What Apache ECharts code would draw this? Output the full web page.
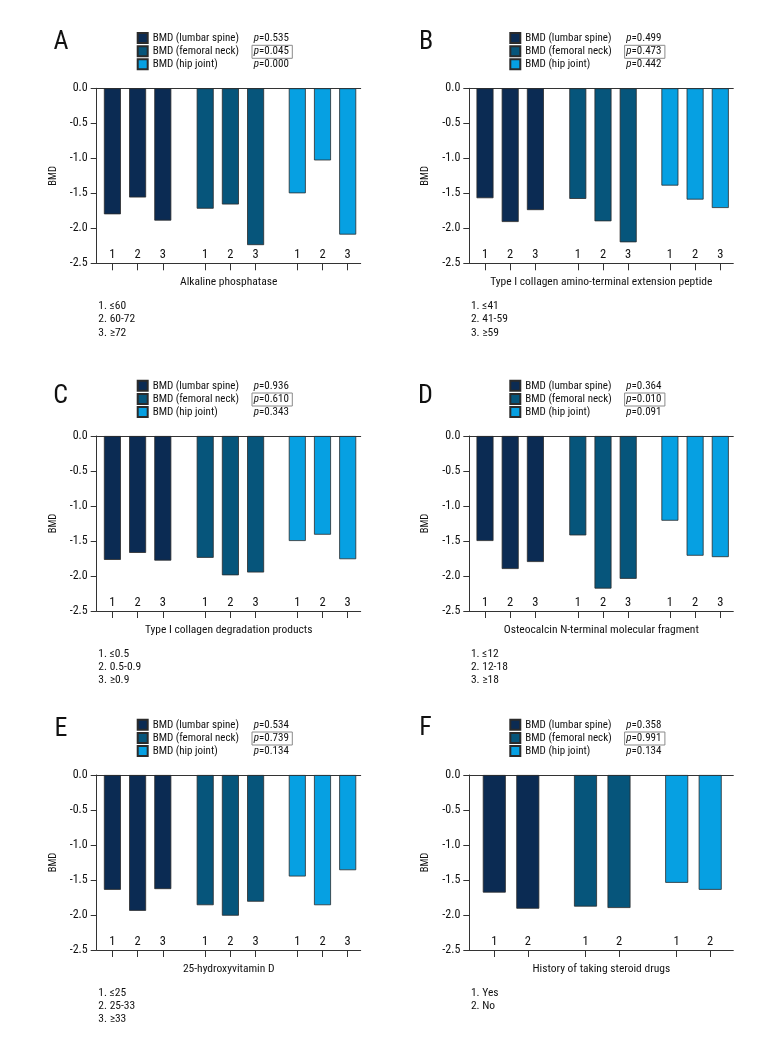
<!DOCTYPE html>
<html><head><meta charset="utf-8">
<script src="https://cdn.jsdelivr.net/npm/echarts@6/dist/echarts.min.js"></script>
<style>html,body{margin:0;padding:0;background:#fff}#c{width:780px;height:1056px}</style>
</head><body><div id="c"></div>
<script>
// ---------- data ----------
const panelLetters = ['A', 'B', 'C', 'D', 'E', 'F'];
const seriesNames = ['BMD (lumbar spine)', 'BMD (femoral neck)', 'BMD (hip joint)'];
const xTitles = [
  'Alkaline phosphatase',
  'Type I collagen amino-terminal extension peptide',
  'Type I collagen degradation products',
  'Osteocalcin N-terminal molecular fragment',
  '25-hydroxyvitamin D',
  'History of taking steroid drugs'
];
const levels3 = ['1', '2', '3'];
const levels2 = ['1', '2'];

const pA = ['0.535', '0.045', '0.000'];
const pB = ['0.499', '0.473', '0.442'];
const pC = ['0.936', '0.610', '0.343'];
const pD = ['0.364', '0.010', '0.091'];
const pE = ['0.534', '0.739', '0.134'];
const pF = ['0.358', '0.991', '0.134'];

// rows: lumbar spine, femoral neck, hip joint ; columns: level 1,2,(3)
const bmdA = [[-1.80, -1.56, -1.89], [-1.72, -1.66, -2.24], [-1.50, -1.03, -2.09]];
const bmdB = [[-1.57, -1.91, -1.74], [-1.58, -1.90, -2.20], [-1.39, -1.59, -1.71]];
const bmdC = [[-1.77, -1.67, -1.78], [-1.74, -1.99, -1.95], [-1.50, -1.41, -1.76]];
const bmdD = [[-1.50, -1.90, -1.80], [-1.42, -2.18, -2.04], [-1.21, -1.71, -1.73]];
const bmdE = [[-1.64, -1.94, -1.63], [-1.86, -2.01, -1.81], [-1.45, -1.86, -1.36]];
const bmdF = [[-1.68, -1.91], [-1.88, -1.90], [-1.54, -1.64]];

const notesA = ['1. \u226460', '2. 60-72', '3. \u226572'];
const notesB = ['1. \u226441', '2. 41-59', '3. \u226559'];
const notesC = ['1. \u22640.5', '2. 0.5-0.9', '3. \u22650.9'];
const notesD = ['1. \u226412', '2. 12-18', '3. \u226518'];
const notesE = ['1. \u226425', '2. 25-33', '3. \u226533'];
const notesF = ['1. Yes', '2. No'];

const yMin = -2.5, yMax = 0, yStep = 0.5;

// ---------- style / layout ----------
const FONT = '"Roboto Condensed","Open Sans Condensed","DejaVu Sans Condensed",sans-serif';
const TXT = '#111';
const AX = '#333';
const seriesColors = ['#0b2b53', '#06557b', '#06a0e2'];
const W = 264, H = 175;
const panelPos = [
  { ax: 96.7, top: 88.3, lx: 61, ly: 42.5 },
  { ax: 469.3, top: 88.3, lx: 426, ly: 42.3 },
  { ax: 96.7, top: 436, lx: 60.5, ly: 396 },
  { ax: 469.3, top: 436, lx: 425.5, ly: 396 },
  { ax: 96.7, top: 775, lx: 61, ly: 729 },
  { ax: 469.3, top: 775, lx: 425.5, ly: 728.6 }
];
const layout3 = { offs: [3.1, 95.9, 188.0], gw: 75.6, bw: 17 };
const layout2 = { offs: [8.25, 99.45, 190.65], gw: 67, bw: 23 };

const panels = [
  { bmd: bmdA, p: pA, notes: notesA, levels: levels3 },
  { bmd: bmdB, p: pB, notes: notesB, levels: levels3 },
  { bmd: bmdC, p: pC, notes: notesC, levels: levels3 },
  { bmd: bmdD, p: pD, notes: notesD, levels: levels3 },
  { bmd: bmdE, p: pE, notes: notesE, levels: levels3 },
  { bmd: bmdF, p: pF, notes: notesF, levels: levels2 }
];

const grids = [], xAxes = [], yAxes = [], series = [], legends = [], elements = [];

panels.forEach((pn, i) => {
  const pos = panelPos[i];
  const bottom = pos.top + H;
  const lay = pn.levels.length === 3 ? layout3 : layout2;

  // main frame grid
  const gi = grids.length;
  grids.push({ left: pos.ax, top: pos.top, width: W, height: H });
  xAxes.push({
    gridIndex: gi, type: 'value', min: 0, max: 1, position: 'bottom',
    axisLine: { show: true, onZero: false, lineStyle: { color: AX, width: 1 } },
    axisTick: { show: false }, axisLabel: { show: false }, splitLine: { show: false },
    name: xTitles[i], nameLocation: 'middle', nameGap: 13,
    nameTextStyle: { fontFamily: FONT, fontSize: 11.5, color: TXT }
  });
  xAxes.push({
    gridIndex: gi, type: 'value', min: 0, max: 1, position: 'top',
    axisLine: { show: true, onZero: false, lineStyle: { color: AX, width: 1 } },
    axisTick: { show: false }, axisLabel: { show: false }, splitLine: { show: false }
  });
  yAxes.push({
    gridIndex: gi, type: 'value', min: yMin, max: yMax, interval: yStep,
    axisLine: { show: true, onZero: false, lineStyle: { color: AX, width: 1 } },
    axisTick: { show: true, length: 6, lineStyle: { color: AX } },
    axisLabel: { formatter: v => v.toFixed(1), margin: 9, fontFamily: FONT, fontSize: 12, color: TXT },
    splitLine: { show: false },
    name: 'BMD', nameLocation: 'middle', nameGap: 38, nameRotate: 90,
    nameTextStyle: { fontFamily: FONT, fontSize: 10.5, color: TXT }
  });

  // one sub-grid per BMD site
  seriesNames.forEach((sn, k) => {
    const g = grids.length;
    grids.push({ left: pos.ax + lay.offs[k], top: pos.top, width: lay.gw, height: H });
    const xi = xAxes.length, yi = yAxes.length;
    xAxes.push({
      gridIndex: g, type: 'category', data: pn.levels, position: 'bottom',
      axisLine: { show: false, onZero: false },
      axisTick: { show: true, alignWithLabel: true, length: 7, lineStyle: { color: AX } },
      axisLabel: { inside: true, margin: 1.5, fontFamily: FONT, fontSize: 12.5, color: TXT }
    });
    yAxes.push({ gridIndex: g, type: 'value', min: yMin, max: yMax, show: false, splitLine: { show: false } });
    series.push({
      type: 'bar', name: sn, xAxisIndex: xi, yAxisIndex: yi,
      data: pn.bmd[k], barWidth: lay.bw,
      itemStyle: { color: seriesColors[k], borderColor: '#2b2b2b', borderWidth: 0.8 },
      silent: true, animation: false
    });
  });

  // legend with p-values
  legends.push({
    left: pos.ax + 40, top: pos.top - 56.2, orient: 'vertical', padding: 0, itemGap: 1.1,
    itemWidth: 10, itemHeight: 10, icon: 'rect', selectedMode: false,
    data: seriesNames,
    formatter: name => '{n|' + name + '}{i|p}{v|=' + pn.p[seriesNames.indexOf(name)] + '}',
    textStyle: {
      rich: {
        n: { width: 101, fontFamily: FONT, fontSize: 11, color: TXT, lineHeight: 13 },
        i: { fontFamily: FONT, fontSize: 11, fontStyle: 'italic', color: TXT, lineHeight: 13 },
        v: { fontFamily: FONT, fontSize: 11, color: TXT, lineHeight: 13 }
      }
    }
  });
  // box around femoral neck p-value
  elements.push({
    type: 'rect', shape: { x: pos.ax + 155.3, y: pos.top - 43, width: 40.3, height: 13 },
    style: { fill: 'none', stroke: '#8a8a8a', lineWidth: 1 }, silent: true
  });
  // panel letter
  elements.push({
    type: 'text', x: pos.lx, y: pos.ly,
    style: { text: panelLetters[i], fontFamily: FONT, fontSize: 26, fill: '#111', align: 'center', verticalAlign: 'middle' }
  });
  // footnotes
  pn.notes.forEach((t, j) => {
    elements.push({
      type: 'text', x: pos.ax + 1.6, y: bottom + 42.8 + 13.3 * j,
      style: { text: t, fontFamily: FONT, fontSize: 11.5, fill: TXT, align: 'left', verticalAlign: 'middle' }
    });
  });
});

const chart = echarts.init(document.getElementById('c'), null, { renderer: 'canvas' });
chart.setOption({
  animation: false,
  backgroundColor: '#fff',
  grid: grids, xAxis: xAxes, yAxis: yAxes, series: series, legend: legends,
  graphic: { elements: elements }
});
</script></body></html>
